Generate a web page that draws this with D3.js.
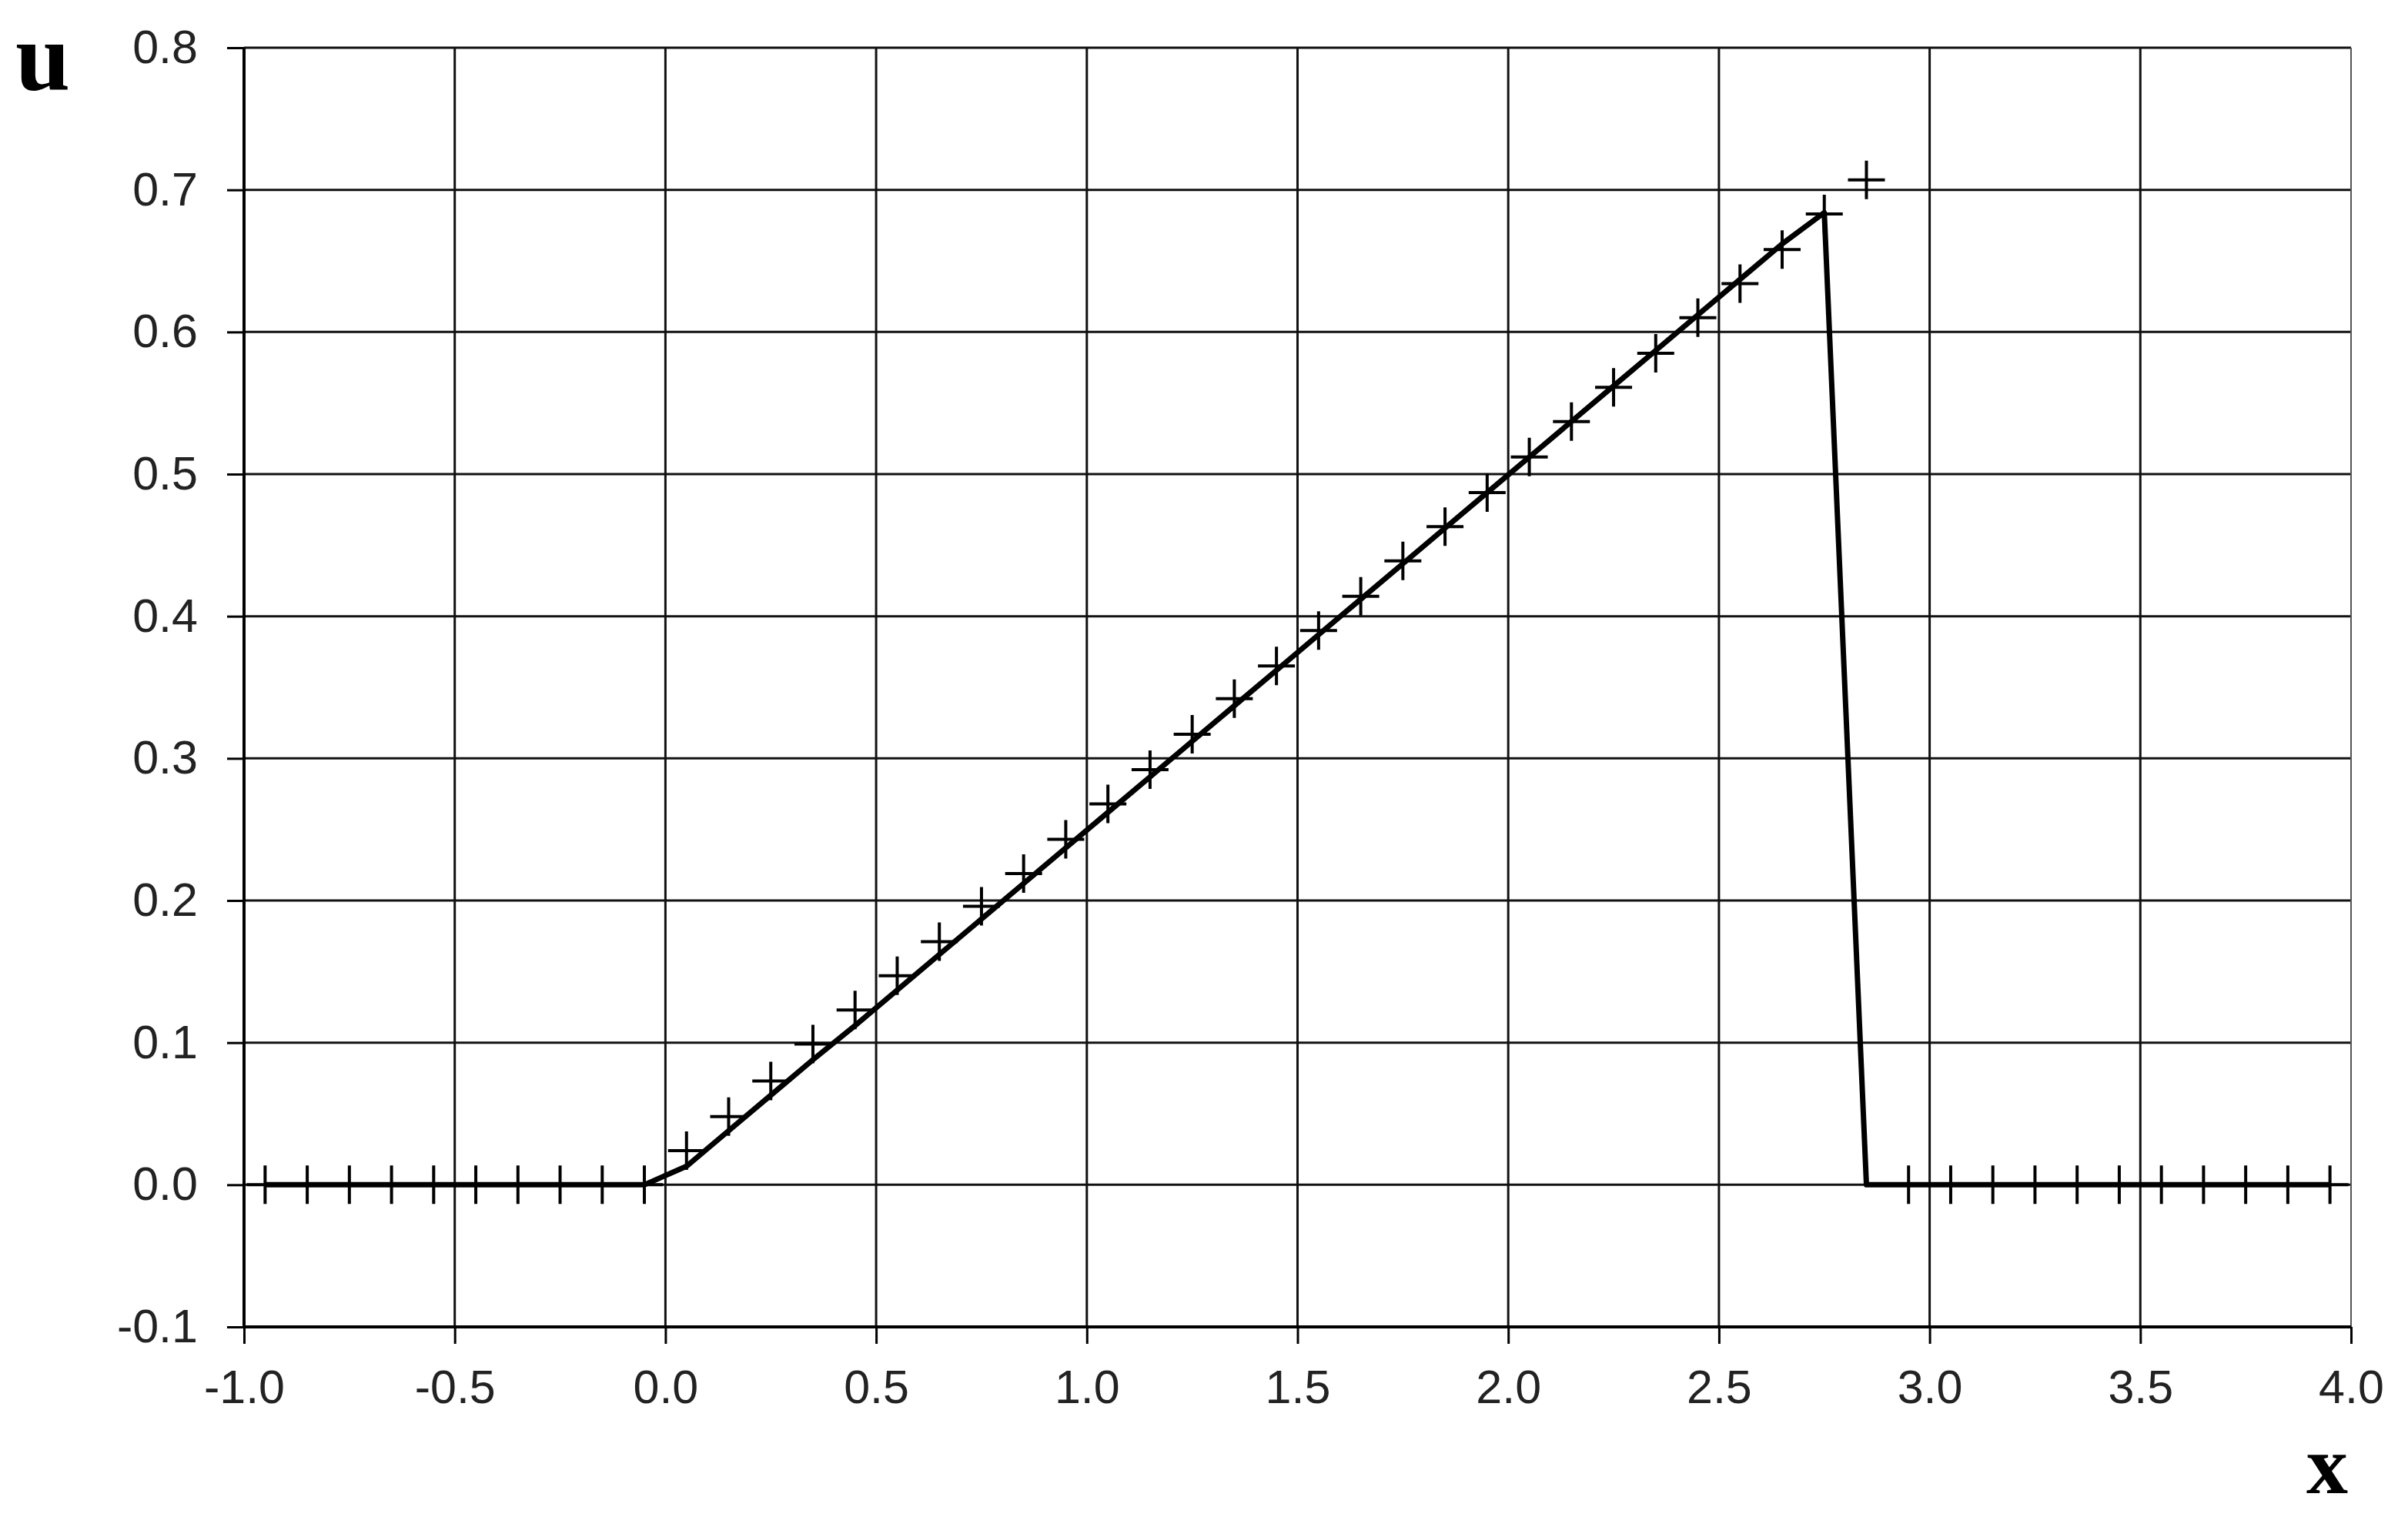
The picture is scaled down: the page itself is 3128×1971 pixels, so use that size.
<!DOCTYPE html>
<html>
<head>
<meta charset="utf-8">
<script src="https://cdn.jsdelivr.net/npm/d3@7"></script>
<style>
  html, body { margin: 0; padding: 0; background: #fff; }
  svg { display: block; }
</style>
</head>
<body>
<svg id="chart" width="3128" height="1971"></svg>
<script>
// ---- data ----
const xTicks = [-1.0, -0.5, 0.0, 0.5, 1.0, 1.5, 2.0, 2.5, 3.0, 3.5, 4.0];
const yTicks = [-0.1, 0.0, 0.1, 0.2, 0.3, 0.4, 0.5, 0.6, 0.7, 0.8];

// sample positions (cell centres)
const xs = [-0.95, -0.85, -0.75, -0.65, -0.55, -0.45, -0.35, -0.25, -0.15, -0.05,
             0.05,  0.15,  0.25,  0.35,  0.45,  0.55,  0.65,  0.75,  0.85,  0.95,
             1.05,  1.15,  1.25,  1.35,  1.45,  1.55,  1.65,  1.75,  1.85,  1.95,
             2.05,  2.15,  2.25,  2.35,  2.45,  2.55,  2.65,  2.75,  2.85,  2.95,
             3.05,  3.15,  3.25,  3.35,  3.45,  3.55,  3.65,  3.75,  3.85,  3.95];

// solid line values
const lineU = [0, 0, 0, 0, 0, 0, 0, 0, 0, 0,
               0.013, 0.038, 0.063, 0.088, 0.112, 0.137, 0.162, 0.187, 0.212, 0.237,
               0.262, 0.287, 0.312, 0.337, 0.362, 0.387, 0.412, 0.437, 0.462, 0.487,
               0.512, 0.537, 0.562, 0.587, 0.612, 0.637, 0.662, 0.684, 0, 0,
               0, 0, 0, 0, 0, 0, 0, 0, 0, 0];

// "+" marker values
const markU = [0, 0, 0, 0, 0, 0, 0, 0, 0, 0,
               0.024, 0.048, 0.073, 0.099, 0.123, 0.147, 0.171, 0.196, 0.219, 0.243,
               0.268, 0.292, 0.317, 0.342, 0.365, 0.390, 0.414, 0.439, 0.463, 0.487,
               0.512, 0.537, 0.561, 0.585, 0.610, 0.634, 0.658, 0.683, 0.707, 0,
               0, 0, 0, 0, 0, 0, 0, 0, 0, 0];

// ---- layout ----
const L = 317, R = 3054, T = 62, B = 1724;
const svg = d3.select("#chart");
const x = d3.scaleLinear().domain([-1, 4]).range([L, R]);
const y = d3.scaleLinear().domain([-0.1, 0.8]).range([B, T]);
const fmt = d => d.toFixed(1);

// grid
const grid = svg.append("g").attr("stroke", "#111").attr("stroke-width", 3);
grid.selectAll("line.v").data(xTicks.filter(d => d !== -1 && d !== 4)).join("line")
  .attr("x1", d => x(d)).attr("x2", d => x(d)).attr("y1", T).attr("y2", B);
grid.selectAll("line.h").data(yTicks.filter(d => d !== -0.1)).join("line")
  .attr("x1", L).attr("x2", R).attr("y1", d => y(d)).attr("y2", d => y(d));
// right border (lighter)
svg.append("line").attr("x1", x(4)).attr("x2", x(4)).attr("y1", T).attr("y2", B)
  .attr("stroke", "#555").attr("stroke-width", 2);

// axes
const ax = svg.append("g").attr("transform", `translate(0,${B})`)
  .call(d3.axisBottom(x).tickValues(xTicks).tickFormat(fmt).tickSize(22).tickPadding(34));
const ay = svg.append("g").attr("transform", `translate(${L},0)`)
  .call(d3.axisLeft(y).tickValues(yTicks).tickFormat(fmt).tickSize(22).tickPadding(38));
[ax, ay].forEach(a => {
  a.select(".domain").attr("stroke", "#000").attr("stroke-width", 4);
  a.selectAll(".tick line").attr("stroke", "#000").attr("stroke-width", 3);
  a.selectAll(".tick text").attr("fill", "#222")
    .style("font-family", "'Liberation Sans', Arial, sans-serif").style("font-size", "61px");
});
ax.select(".domain").attr("d", `M${L},0H${R}`);
ay.select(".domain").attr("d", `M0,${T}V${B}`);

// solid line
const pts = xs.map((d, i) => [d, lineU[i]]);
svg.append("path").datum(pts)
  .attr("fill", "none").attr("stroke", "#000").attr("stroke-width", 7)
  .attr("stroke-linejoin", "round")
  .attr("d", d3.line().x(d => x(d[0])).y(d => y(d[1])));

// plus markers
const mk = xs.map((d, i) => [d, markU[i]]);
svg.append("g").selectAll("path").data(mk).join("path")
  .attr("fill", "none").attr("stroke", "#000").attr("stroke-width", 4)
  .attr("d", d => {
    const cx = x(d[0]), cy = y(d[1]);
    return `M${cx - 24},${cy}H${cx + 24}M${cx},${cy - 25}V${cy + 25}`;
  });

// axis titles
svg.append("text").attr("x", 20).attr("y", 116)
  .style("font-family", "'Liberation Serif', 'Times New Roman', serif")
  .style("font-size", "128px").style("font-weight", "bold").text("u");
svg.append("text").attr("x", 2996).attr("y", 1940)
  .style("font-family", "'Liberation Serif', 'Times New Roman', serif")
  .style("font-size", "108px").style("font-weight", "bold").text("x");
</script>
</body>
</html>
